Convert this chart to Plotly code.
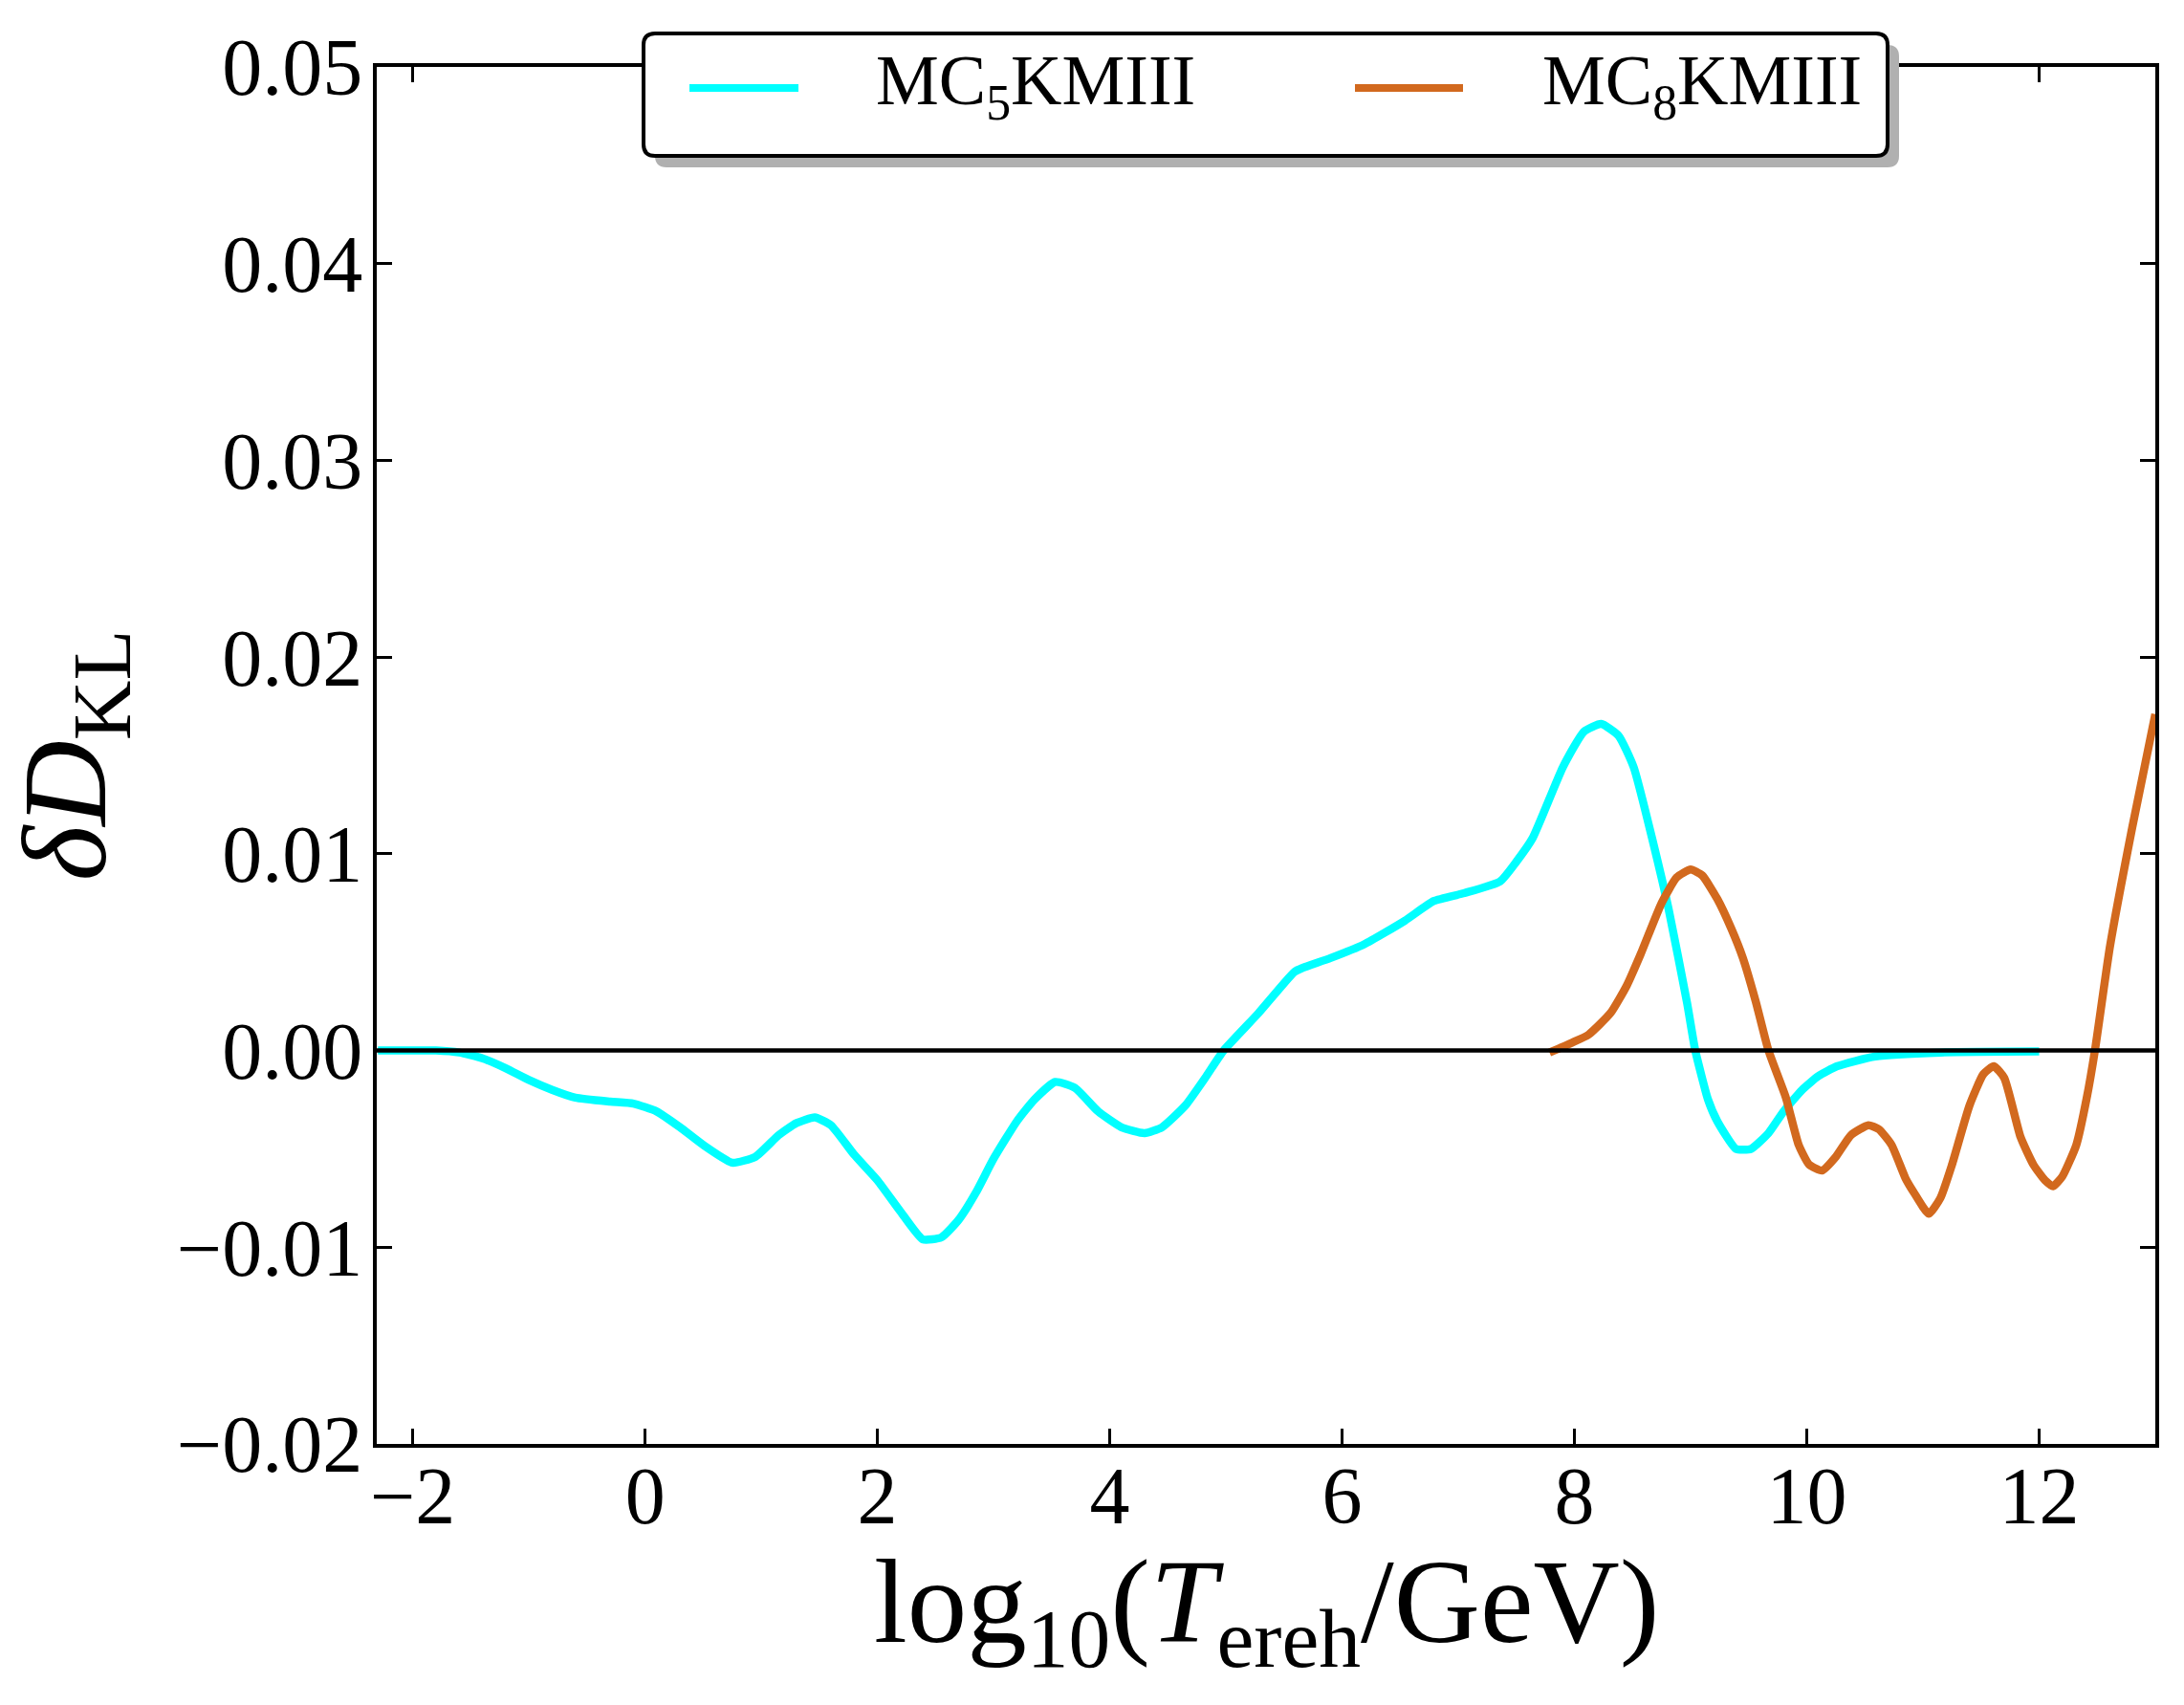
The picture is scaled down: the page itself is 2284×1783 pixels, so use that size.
import plotly.graph_objects as go

# ---------------- data ----------------
mc5_x = [-2.3, -2.0, -1.8, -1.6, -1.4, -1.2, -1.0, -0.8, -0.6, -0.3, -0.1, 0.1, 0.3, 0.5,
         0.75, 0.95, 1.15, 1.3, 1.46, 1.6, 1.8, 2.0, 2.2, 2.39, 2.55, 2.7, 2.85, 3.0, 3.2,
         3.35, 3.53, 3.7, 3.9, 4.1, 4.3, 4.45, 4.65, 4.82, 4.98, 5.28, 5.59, 5.66, 5.9,
         6.19, 6.54, 6.79, 7.05, 7.36, 7.5, 7.64, 7.9, 8.08, 8.23, 8.38, 8.51, 8.68, 8.81,
         8.97, 9.04, 9.15, 9.23, 9.39, 9.52, 9.67, 9.8, 9.96, 10.1, 10.26, 10.59, 11.15, 12.0]
mc5_y = [0.0, 0.0, 0.0, -0.0001, -0.0004, -0.0009, -0.0015, -0.0020, -0.0024, -0.0026,
         -0.0027, -0.0031, -0.0039, -0.0048, -0.0057, -0.0054, -0.0043, -0.0037, -0.0034,
         -0.0038, -0.0053, -0.0066, -0.0082, -0.0096, -0.0095, -0.0086, -0.0072, -0.0055,
         -0.0036, -0.0025, -0.0016, -0.0019, -0.0031, -0.0039, -0.0042, -0.0039, -0.0028,
         -0.0014, 0.0, 0.0019, 0.0040, 0.0042, 0.0047, 0.0054, 0.0066, 0.0076, 0.0080,
         0.0086, 0.0096, 0.0108, 0.0144, 0.0162, 0.0166, 0.0160, 0.0144, 0.0105, 0.0072,
         0.0024, 0.0, -0.0025, -0.0036, -0.0050, -0.0050, -0.0042, -0.0031, -0.0020,
         -0.0013, -0.0008, -0.0003, -0.0001, -0.00005]

mc8_x = [7.785, 7.98, 8.12, 8.31, 8.45, 8.57, 8.75, 8.88, 9.0, 9.1, 9.23, 9.35, 9.45, 9.56,
         9.67, 9.82, 9.93, 10.02, 10.13, 10.25, 10.38, 10.53, 10.62, 10.73, 10.85, 10.92,
         11.05, 11.15, 11.25, 11.4, 11.52, 11.61, 11.7, 11.84, 11.95, 12.05, 12.12, 12.2,
         12.32, 12.41, 12.48, 12.61, 12.8, 13.0]
mc8_y = [-0.0001, 0.0004, 0.0008, 0.0019, 0.0033, 0.0049, 0.0075, 0.0088, 0.0092, 0.0089,
         0.0077, 0.0062, 0.0047, 0.0025, 0.0, -0.0024, -0.0048, -0.0058, -0.0061, -0.0054,
         -0.0043, -0.0038, -0.0040, -0.0048, -0.0065, -0.0072, -0.0083, -0.0075, -0.0058,
         -0.0028, -0.0012, -0.0008, -0.0014, -0.0044, -0.0058, -0.0066, -0.0069, -0.0064,
         -0.0048, -0.0024, 0.0, 0.0053, 0.0113, 0.0171]

series_names = ["MC<sub>5</sub>KMIII", "MC<sub>8</sub>KMIII"]
series_colors = ["#00FFFF", "#D2691E"]

x_ticks = [-2, 0, 2, 4, 6, 8, 10, 12]
y_ticks = [-0.02, -0.01, 0.0, 0.01, 0.02, 0.03, 0.04, 0.05]

x_title = "log<sub>10</sub>(<i>T</i><sub>ereh</sub>/GeV)"
y_title = "<i>δD</i><sub>KL</sub>"

# ---------------- layout geometry (pixels) ----------------
W, H = 2284, 1783
L, R, T, B = 394, 2254, 70, 1510
FONT = "Liberation Serif"


def px(xp):
    return (xp - L) / (R - L)


def py(yp):
    return (B - yp) / (B - T)


fig = go.Figure()
fig.add_trace(go.Scatter(x=mc5_x, y=mc5_y, mode="lines", name=series_names[0],
                         line=dict(color=series_colors[0], width=8.5, shape="spline", smoothing=0.5),
                         showlegend=False))
fig.add_trace(go.Scatter(x=mc8_x, y=mc8_y, mode="lines", name=series_names[1],
                         line=dict(color=series_colors[1], width=8.5, shape="spline", smoothing=0.5),
                         showlegend=False))

shapes = []
# zero line on top of curves
shapes.append(dict(type="line", xref="paper", yref="y", x0=0, x1=1, y0=0, y1=0,
                   line=dict(color="black", width=4.5), layer="above"))


def rounded(x0, y0, x1, y1, r):
    rx = r / (R - L)
    ry = r / (B - T)
    X0, X1 = px(x0), px(x1)
    Y0, Y1 = py(y1), py(y0)
    return (f"M {X0+rx},{Y1} L {X1-rx},{Y1} Q {X1},{Y1} {X1},{Y1-ry} "
            f"L {X1},{Y0+ry} Q {X1},{Y0} {X1-rx},{Y0} L {X0+rx},{Y0} "
            f"Q {X0},{Y0} {X0},{Y0+ry} L {X0},{Y1-ry} Q {X0},{Y1} {X0+rx},{Y1} Z")


# legend box: shadow + rounded frame
shapes.append(dict(type="path", xref="paper", yref="paper", path=rounded(685, 47, 1986, 175, 12),
                   fillcolor="#b0b0b0", line=dict(width=0), layer="above"))
shapes.append(dict(type="path", xref="paper", yref="paper", path=rounded(673, 35, 1974, 163, 12),
                   fillcolor="white", line=dict(color="black", width=4), layer="above"))

legend_items = [(721, 835, 914), (1417, 1530, 1611)]
annotations = []
for (lx0, lx1, tx), name, col in zip(legend_items, series_names, series_colors):
    shapes.append(dict(type="line", xref="paper", yref="paper", x0=px(lx0), x1=px(lx1),
                       y0=py(92), y1=py(92), line=dict(color=col, width=8), layer="above"))
    annotations.append(dict(text=name, xref="paper", yref="paper", x=px(tx), y=py(90),
                            xanchor="left", yanchor="middle", showarrow=False,
                            font=dict(family=FONT, size=74, color="black")))

# x-axis title (as annotation for precise placement)
annotations.append(dict(text=x_title, xref="paper", yref="paper", x=0.5, y=py(1684),
                        xanchor="center", yanchor="middle", showarrow=False, borderpad=0,
                        font=dict(family=FONT, size=125, color="black")))

fig.update_layout(
    width=W, height=H,
    margin=dict(l=L, r=W - R, t=T, b=H - B),
    paper_bgcolor="white", plot_bgcolor="white",
    font=dict(family=FONT, color="black"),
    shapes=shapes, annotations=annotations,
    showlegend=False,
)
axis_common = dict(showline=True, linecolor="black", linewidth=4, mirror="ticks",
                   ticks="inside", ticklen=16, tickwidth=3, tickcolor="black",
                   showgrid=False, zeroline=False,
                   tickfont=dict(family=FONT, size=84, color="black"))
fig.update_xaxes(range=[-2.31, 13.0], tickvals=x_ticks, ticklabelstandoff=-22, **axis_common)
fig.update_yaxes(range=[-0.02, 0.05], tickvals=y_ticks, tickformat=".2f", ticklabelstandoff=-6,
                 **axis_common,
                 title=dict(text=y_title, font=dict(family=FONT, size=124), standoff=62))

fig.write_html("out.html", config={"displayModeBar": False},
               post_script="document.body.style.margin='0px';")
